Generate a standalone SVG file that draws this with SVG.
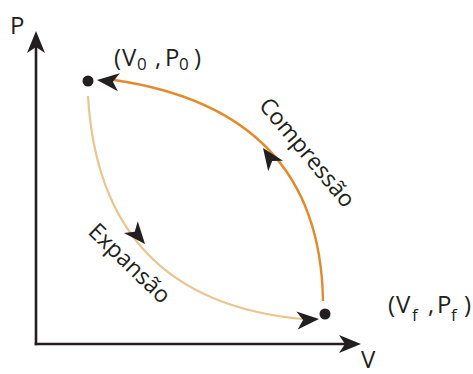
<svg xmlns="http://www.w3.org/2000/svg" width="473" height="374" viewBox="0 0 473 374">
<defs>
<path id="ah" d="M0,0 L-22,-9 L-16,0 L-22,9 Z" fill="#231F20"/>
</defs>
<style>
.t{font-family:"Open Sans","Liberation Sans",sans-serif;fill:#231F20;font-size:24px}
.s{font-size:17px}
.c{font-size:23px}
</style>
<g id="axes">
<line x1="36" y1="345.3" x2="36" y2="45" stroke="#231F20" stroke-width="2.6"/>
<line x1="34.7" y1="344" x2="345" y2="344" stroke="#231F20" stroke-width="2.6"/>
<use href="#ah" transform="translate(36,31) rotate(-90)"/>
<use href="#ah" transform="translate(361,344)"/>
<text class="t" x="10" y="34">P</text>
<text class="t" x="361" y="368">V</text>
</g>
<g id="connectors">
<path id="compressao" d="M323,301 Q320,110 114,80" fill="none" stroke="#E38B2C" stroke-width="2.4"/>
<path id="expansao" d="M88,96 Q100,300 302,319" fill="none" stroke="#EBC48E" stroke-width="2.2"/>
<use href="#ah" transform="translate(97,80) rotate(186)"/>
<use href="#ah" transform="translate(263,148) rotate(235)"/>
<use href="#ah" transform="translate(145,244) rotate(50)"/>
<use href="#ah" transform="translate(319,319) rotate(-4)"/>
<text class="t c" transform="translate(258,106) rotate(50)">Compressão</text>
<text class="t c" transform="translate(87,233) rotate(44)">Expansão</text>
</g>
<g id="p0">
<circle cx="88" cy="81" r="5.5" fill="#231F20"/>
<text class="t" y="66"><tspan x="114">(</tspan><tspan x="122">V</tspan><tspan class="s" x="137" y="70">0</tspan><tspan x="155" y="66">,</tspan><tspan x="165">P</tspan><tspan class="s" x="179" y="70">0</tspan><tspan x="194" y="66">)</tspan></text>
</g>
<g id="pf">
<circle cx="325" cy="314" r="5.5" fill="#231F20"/>
<text class="t" y="313"><tspan x="388">(</tspan><tspan x="396">V</tspan><tspan class="s" x="412" y="321">f</tspan><tspan x="428" y="313">,</tspan><tspan x="437">P</tspan><tspan class="s" x="451" y="321">f</tspan><tspan x="464" y="313">)</tspan></text>
</g>
</svg>
